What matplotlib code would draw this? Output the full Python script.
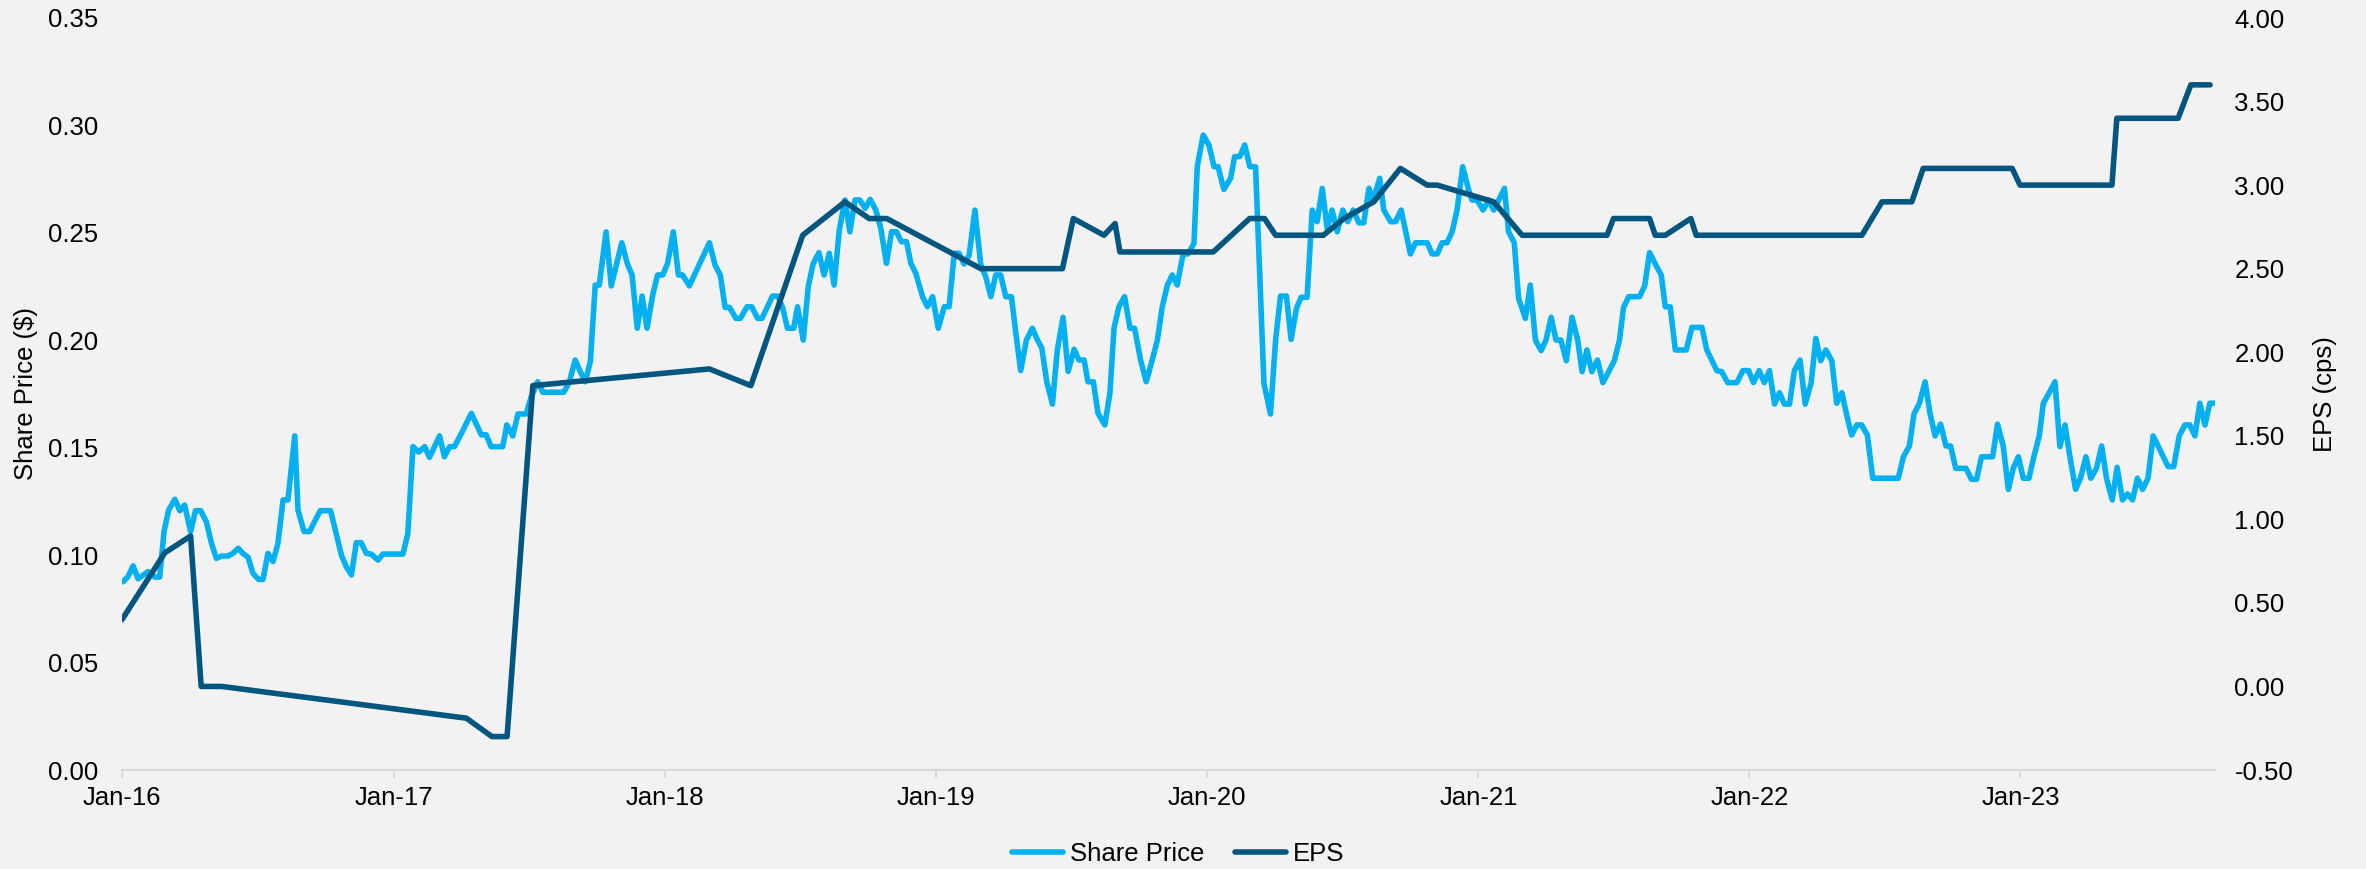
import matplotlib
matplotlib.use('Agg')
import matplotlib.pyplot as plt
import matplotlib.dates as mdates
from matplotlib.ticker import FormatStrFormatter
import numpy as np
import pandas as pd

plt.rcParams['font.family'] = ['Liberation Sans', 'DejaVu Sans']

# ---- data (time in years since 1 Jan 2016) ----
price_t = [
    0.004, 0.022, 0.041, 0.059, 0.096, 0.121, 0.139, 0.155, 0.172, 0.195, 0.213, 0.231, 0.253, 0.271,
    0.290, 0.311, 0.330, 0.348, 0.367, 0.391, 0.409, 0.428, 0.446, 0.465, 0.483, 0.504, 0.520, 0.538,
    0.557, 0.575, 0.594, 0.612, 0.637, 0.649, 0.671, 0.692, 0.710, 0.731, 0.769, 0.790, 0.809, 0.827,
    0.846, 0.864, 0.882, 0.901, 0.919, 0.944, 0.962, 1.036, 1.054, 1.073, 1.094, 1.116, 1.134, 1.171,
    1.189, 1.208, 1.226, 1.257, 1.288, 1.325, 1.343, 1.361, 1.404, 1.419, 1.441, 1.460, 1.490, 1.509,
    1.533, 1.552, 1.629, 1.650, 1.671, 1.690, 1.708, 1.727, 1.745, 1.760, 1.785, 1.804, 1.843, 1.863,
    1.881, 1.900, 1.918, 1.936, 1.957, 1.975, 1.994, 2.012, 2.033, 2.052, 2.067, 2.092, 2.166, 2.187,
    2.206, 2.224, 2.240, 2.264, 2.280, 2.305, 2.322, 2.344, 2.360, 2.399, 2.418, 2.436, 2.454, 2.477,
    2.491, 2.512, 2.531, 2.549, 2.570, 2.589,
    2.608, 2.626, 2.645, 2.666, 2.684, 2.703, 2.721, 2.740, 2.759, 2.780, 2.798, 2.819, 2.838, 2.856,
    2.874, 2.893, 2.909, 2.927, 2.952, 2.970, 2.989, 3.010, 3.032, 3.050, 3.069, 3.087, 3.105, 3.124,
    3.145, 3.167, 3.185, 3.204, 3.222, 3.240, 3.259, 3.280, 3.296, 3.314, 3.335, 3.357, 3.373, 3.392,
    3.410, 3.431, 3.449, 3.470, 3.489, 3.511, 3.529, 3.548, 3.562, 3.582, 3.599, 3.624, 3.643, 3.658,
    3.676, 3.697, 3.717, 3.734, 3.756, 3.777, 3.799, 3.818, 3.836, 3.855, 3.873, 3.891,
    3.913, 3.931, 3.953, 3.965, 3.987, 4.008, 4.027, 4.042, 4.063, 4.088, 4.103, 4.122, 4.140, 4.159,
    4.180, 4.199, 4.211, 4.235, 4.254, 4.272, 4.294, 4.311, 4.331, 4.348, 4.370, 4.389, 4.407, 4.426,
    4.444, 4.462, 4.481, 4.502, 4.520, 4.540, 4.561, 4.579, 4.598, 4.613, 4.638, 4.653, 4.678, 4.696,
    4.717, 4.751, 4.770, 4.813, 4.831, 4.850, 4.868, 4.886, 4.905, 4.923, 4.944, 4.966, 4.978, 4.997,
    5.019, 5.040, 5.058, 5.077, 5.098, 5.113, 5.134,
    5.150, 5.175, 5.193, 5.212, 5.233, 5.251, 5.270, 5.288, 5.306, 5.326, 5.347, 5.368, 5.384, 5.402,
    5.420, 5.441, 5.461, 5.482, 5.503, 5.522, 5.537, 5.556, 5.596, 5.615, 5.633, 5.654, 5.676, 5.691,
    5.709, 5.728, 5.768, 5.789, 5.826, 5.844, 5.881, 5.899, 5.921, 5.955, 5.977, 5.998, 6.016, 6.037,
    6.056, 6.075, 6.094, 6.112, 6.130, 6.149, 6.167, 6.188, 6.207, 6.229, 6.246, 6.264, 6.283, 6.305,
    6.323, 6.342, 6.360, 6.378, 6.397, 6.415, 6.436,
    6.456, 6.550, 6.569, 6.591, 6.608, 6.628, 6.649, 6.667, 6.686, 6.706, 6.726, 6.743, 6.762, 6.800,
    6.820, 6.839, 6.857, 6.898, 6.916, 6.937, 6.956, 6.974, 6.993, 7.011, 7.032, 7.050, 7.070, 7.085,
    7.107, 7.128, 7.146, 7.165, 7.183, 7.204, 7.222, 7.242, 7.260, 7.281, 7.300, 7.318, 7.339, 7.357,
    7.377, 7.395, 7.414, 7.432, 7.451, 7.471, 7.490, 7.545, 7.566, 7.586, 7.607, 7.625, 7.644, 7.662,
    7.681, 7.699, 7.718,
]
price_v = [
    0.0876, 0.0900, 0.0950, 0.0890, 0.0923, 0.0898, 0.0898, 0.1110, 0.1210, 0.1260, 0.1207, 0.1233, 0.1110, 0.1207,
    0.1207, 0.1156, 0.1055, 0.0985, 0.0996, 0.0996, 0.1008, 0.1032, 0.1008, 0.0990, 0.0915, 0.0887, 0.0887, 0.1008,
    0.0970, 0.1055, 0.1257, 0.1257, 0.1555, 0.1210, 0.1110, 0.1110, 0.1156, 0.1207, 0.1207, 0.1100, 0.1000, 0.0946,
    0.0908, 0.1058, 0.1058, 0.1008, 0.1005, 0.0977, 0.1005, 0.1005, 0.1100, 0.1505, 0.1480, 0.1505, 0.1455, 0.1555,
    0.1458, 0.1505, 0.1505, 0.1580, 0.1660, 0.1560, 0.1560, 0.1505, 0.1505, 0.1606, 0.1555, 0.1657, 0.1657, 0.1737,
    0.1807, 0.1758, 0.1758, 0.1807, 0.1908, 0.1854, 0.1807, 0.1900, 0.2257, 0.2257, 0.2505, 0.2253, 0.2454, 0.2358,
    0.2304, 0.2056, 0.2206, 0.2056, 0.2211, 0.2304, 0.2304, 0.2358, 0.2505, 0.2304, 0.2304, 0.2253, 0.2454, 0.2350,
    0.2304, 0.2153, 0.2153, 0.2102, 0.2102, 0.2156, 0.2156, 0.2102, 0.2102, 0.2206, 0.2206, 0.2153, 0.2056, 0.2056,
    0.2156, 0.2001, 0.2253, 0.2358, 0.2408, 0.2304,
    0.2405, 0.2257, 0.2513, 0.2653, 0.2505, 0.2653, 0.2653, 0.2614, 0.2656, 0.2606, 0.2521, 0.2358, 0.2505, 0.2505,
    0.2459, 0.2459, 0.2358, 0.2312, 0.2203, 0.2156, 0.2203, 0.2056, 0.2156, 0.2156, 0.2405, 0.2405, 0.2355, 0.2397,
    0.2606, 0.2350, 0.2296, 0.2203, 0.2304, 0.2304, 0.2203, 0.2203, 0.2032, 0.1859, 0.2001, 0.2056, 0.2009, 0.1963,
    0.1807, 0.1703, 0.1955, 0.2107, 0.1855, 0.1958, 0.1908, 0.1908, 0.1807, 0.1807, 0.1660, 0.1606, 0.1753, 0.2056,
    0.2156, 0.2203, 0.2056, 0.2056, 0.1908, 0.1807, 0.1908, 0.2001, 0.2156, 0.2257, 0.2304, 0.2257,
    0.2402, 0.2402, 0.2451, 0.2808, 0.2955, 0.2909, 0.2808, 0.2808, 0.2702, 0.2754, 0.2855, 0.2855, 0.2909, 0.2808,
    0.2808, 0.2187, 0.1800, 0.1657, 0.2001, 0.2206, 0.2206, 0.2004, 0.2149, 0.2200, 0.2200, 0.2606, 0.2552, 0.2707,
    0.2521, 0.2606, 0.2505, 0.2606, 0.2552, 0.2606, 0.2547, 0.2547, 0.2707, 0.2653, 0.2754, 0.2606, 0.2552, 0.2552,
    0.2606, 0.2402, 0.2454, 0.2454, 0.2402, 0.2402, 0.2454, 0.2454, 0.2505, 0.2606, 0.2808, 0.2699, 0.2653, 0.2653,
    0.2606, 0.2653, 0.2606, 0.2653, 0.2707, 0.2505, 0.2454,
    0.2195, 0.2102, 0.2257, 0.2001, 0.1952, 0.2001, 0.2107, 0.2001, 0.2001, 0.1905, 0.2107, 0.2001, 0.1854, 0.1955,
    0.1854, 0.1908, 0.1803, 0.1854, 0.1905, 0.2001, 0.2153, 0.2203, 0.2203, 0.2253, 0.2408, 0.2355, 0.2304, 0.2156,
    0.2156, 0.1955, 0.1955, 0.2060, 0.2060, 0.1955, 0.1859, 0.1854, 0.1803, 0.1803, 0.1859, 0.1859, 0.1803, 0.1859,
    0.1803, 0.1859, 0.1703, 0.1756, 0.1703, 0.1703, 0.1859, 0.1908, 0.1703, 0.1803, 0.2009, 0.1905, 0.1955, 0.1905,
    0.1707, 0.1756, 0.1652, 0.1559, 0.1606, 0.1606, 0.1559,
    0.1358, 0.1358, 0.1458, 0.1508, 0.1657, 0.1707, 0.1807, 0.1660, 0.1555, 0.1610, 0.1508, 0.1508, 0.1404, 0.1404,
    0.1353, 0.1353, 0.1458, 0.1458, 0.1610, 0.1508, 0.1306, 0.1404, 0.1458, 0.1358, 0.1358, 0.1458, 0.1555, 0.1707,
    0.1756, 0.1807, 0.1505, 0.1606, 0.1458, 0.1306, 0.1358, 0.1458, 0.1358, 0.1404, 0.1508, 0.1358, 0.1257, 0.1409,
    0.1257, 0.1285, 0.1257, 0.1358, 0.1306, 0.1358, 0.1555, 0.1412, 0.1412, 0.1555, 0.1606, 0.1606, 0.1555, 0.1707,
    0.1606, 0.1707, 0.1707,
]

eps_t = [0.000, 0.158, 0.253, 0.292, 0.368, 1.270, 1.364, 1.420, 1.515, 2.166, 2.319, 2.510, 2.666,
         2.755, 2.820, 3.167, 3.468, 3.508, 3.621, 3.662, 3.680, 4.024, 4.158, 4.213, 4.254, 4.430,
         4.506, 4.616, 4.714, 4.813, 4.850, 5.058, 5.163, 5.476, 5.500, 5.633, 5.654, 5.691, 5.785,
         5.805, 6.416, 6.490, 6.600, 6.642, 6.970, 6.999, 7.338, 7.356, 7.582, 7.629, 7.700]
eps_v = [0.40, 0.80, 0.90, 0.00, 0.00, -0.19, -0.30, -0.30, 1.80, 1.90, 1.80, 2.70, 2.90,
         2.80, 2.80, 2.50, 2.50, 2.80, 2.70, 2.77, 2.60, 2.60, 2.80, 2.80, 2.70, 2.70,
         2.80, 2.90, 3.10, 3.00, 3.00, 2.90, 2.70, 2.70, 2.80, 2.80, 2.70, 2.70, 2.80,
         2.70, 2.70, 2.90, 2.90, 3.10, 3.10, 3.00, 3.00, 3.40, 3.40, 3.60, 3.60]

price_ticks = [0.00, 0.05, 0.10, 0.15, 0.20, 0.25, 0.30, 0.35]
eps_ticks = [-0.50, 0.00, 0.50, 1.00, 1.50, 2.00, 2.50, 3.00, 3.50, 4.00]
series_names = ['Share Price', 'EPS']

# ---- drawing ----
BG = '#F2F2F2'
C_PRICE = '#00B0F0'
C_EPS = '#00567F'
FS = 18.5
W, H = 2366, 869

base = pd.Timestamp('2016-01-01')


def to_dates(ts):
    return base + pd.to_timedelta(np.asarray(ts) * 365.25, unit='D')


fig = plt.figure(figsize=(W / 100, H / 100), dpi=100, facecolor=BG)
ax = fig.add_axes([122 / W, 99 / H, (2215 - 122) / W, (770 - 18) / H])
ax.set_facecolor(BG)
ax2 = ax.twinx()

l1, = ax.plot(to_dates(price_t), price_v, color=C_PRICE, lw=4.0,
              solid_joinstyle='round', solid_capstyle='round')
l2, = ax2.plot(to_dates(eps_t), eps_v, color=C_EPS, lw=4.0,
               solid_joinstyle='round', solid_capstyle='round')

ax.set_ylim(0, 0.35)
ax.set_yticks(price_ticks)
ax.yaxis.set_major_formatter(FormatStrFormatter('%.2f'))
ax2.set_ylim(-0.5, 4.0)
ax2.set_yticks(eps_ticks)
ax2.yaxis.set_major_formatter(FormatStrFormatter('%.2f'))

ax.set_xlim(base, to_dates([price_t[-1]])[0])
ax.xaxis.set_major_locator(mdates.YearLocator())
ax.xaxis.set_major_formatter(mdates.DateFormatter('%b-%y'))

for a in (ax, ax2):
    for s in ('top', 'left', 'right'):
        a.spines[s].set_visible(False)
ax2.spines['bottom'].set_visible(False)
ax.spines['bottom'].set_color('#D9D9D9')
ax.spines['bottom'].set_linewidth(1.6)

ax.tick_params(axis='x', color='#D9D9D9', length=6, width=1.4, labelsize=FS,
               labelcolor='black', pad=5.5)
ax.tick_params(axis='y', length=0, labelsize=FS, pad=17)
ax2.tick_params(axis='y', length=0, labelsize=FS, pad=14)

fig.text(26 / W, 1 - 394 / H, 'Share Price ($)', rotation=90, ha='center', va='center', fontsize=FS)
fig.text(2325 / W, 1 - 394 / H, 'EPS (cps)', rotation=90, ha='center', va='center', fontsize=FS)

fig.legend([l1, l2], series_names, loc='center', bbox_to_anchor=(1178 / W, 15 / H), ncol=2,
           frameon=False, fontsize=FS, handlelength=2.0, handletextpad=0.25, columnspacing=1.2,
           borderpad=0, borderaxespad=0)

fig.savefig('out.png', dpi=100, facecolor=BG)
